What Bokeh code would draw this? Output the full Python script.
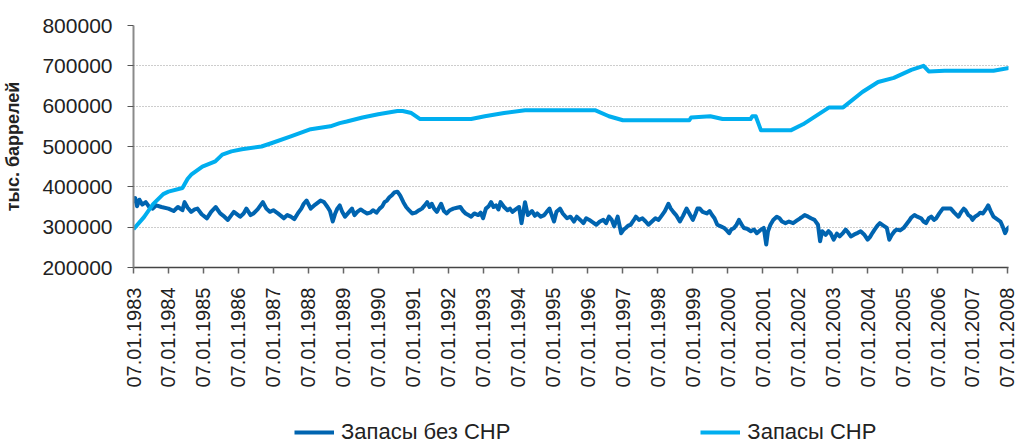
import math
from bokeh.plotting import figure
from bokeh.layouts import column
from bokeh.models import (Range1d, FixedTicker, BasicTickFormatter, Legend, LegendItem)
from bokeh.embed import file_html
from bokeh.resources import INLINE

# ---- data ----
years_ticks = list(range(1983, 2009))
tick_labels = {y: "07.01.%d" % y for y in years_ticks}
series_names = ["Запасы без СНР", "Запасы СНР"]

snr_dates = [1983.0, 1983.3, 1983.56, 1983.85, 1984.0, 1984.4, 1984.55, 1984.65, 1984.97, 1985.34,
             1985.54, 1985.8, 1986.1, 1986.66, 1986.94, 1987.5, 1988.07, 1988.63, 1988.9, 1989.1,
             1989.55, 1990.0, 1990.55, 1990.7, 1990.95, 1991.2, 1992.66, 1993.05, 1993.6, 1994.2,
             1996.2, 1996.6, 1997.0, 1998.9, 1998.95, 1999.5, 1999.85, 2000.65, 2000.7, 2000.8,
             2000.95, 2001.8, 2002.15, 2002.9, 2003.3, 2003.85, 2004.3, 2004.75, 2005.25, 2005.6,
             2005.75, 2006.2, 2007.6, 2008.05]
snr_values = [295000, 325000, 357000, 382000, 388000, 397000, 420000, 430000, 450000, 463000,
              480000, 488000, 493000, 500000, 508000, 525000, 543000, 550000, 558000, 562000,
              572000, 580000, 588000, 588000, 583000, 568000, 568000, 575000, 583000, 590000,
              590000, 575000, 565000, 565000, 572000, 575000, 568000, 568000, 575000, 575000,
              540000, 540000, 555000, 597000, 597000, 635000, 660000, 670000, 690000, 700000,
              686000, 688000, 688000, 695000]

nosnr_dates = [
    1983.00, 1983.05, 1983.10, 1983.17, 1983.25, 1983.35, 1983.45, 1983.55, 1983.65, 1983.80,
    1984.00, 1984.15, 1984.27, 1984.40, 1984.46, 1984.55, 1984.65, 1984.75, 1984.83, 1984.95,
    1985.10, 1985.22, 1985.35, 1985.48, 1985.60, 1985.70, 1985.87, 1986.05, 1986.15, 1986.23,
    1986.35, 1986.43, 1986.55, 1986.70, 1986.80, 1986.90, 1987.00, 1987.13, 1987.22, 1987.30,
    1987.40, 1987.50, 1987.60, 1987.70, 1987.80, 1987.87, 1987.95, 1988.07, 1988.20, 1988.35,
    1988.45, 1988.55, 1988.62, 1988.70, 1988.77, 1988.83, 1988.90, 1988.97, 1989.05, 1989.15,
    1989.25, 1989.32, 1989.40, 1989.50, 1989.60, 1989.68, 1989.77, 1989.85, 1989.95, 1990.04,
    1990.12, 1990.18, 1990.25, 1990.32, 1990.40, 1990.46, 1990.55, 1990.63, 1990.72, 1990.80,
    1990.88, 1990.97, 1991.07, 1991.17, 1991.25, 1991.33, 1991.40, 1991.47, 1991.53, 1991.60,
    1991.68, 1991.75, 1991.80, 1991.88, 1991.96, 1992.05, 1992.15, 1992.25, 1992.35, 1992.43,
    1992.50, 1992.58, 1992.66, 1992.75, 1992.86, 1992.93, 1993.00, 1993.08, 1993.16, 1993.23,
    1993.30, 1993.37, 1993.44, 1993.50, 1993.60, 1993.70, 1993.77, 1993.84, 1993.93, 1994.03,
    1994.10, 1994.20, 1994.28, 1994.40, 1994.48, 1994.55, 1994.65, 1994.75, 1994.82, 1994.90,
    1994.97, 1995.03, 1995.10, 1995.20, 1995.28, 1995.40, 1995.50, 1995.60, 1995.68, 1995.78,
    1995.87, 1995.95, 1996.04, 1996.14, 1996.24, 1996.34, 1996.44, 1996.52, 1996.60, 1996.68,
    1996.75, 1996.85, 1996.95, 1997.02, 1997.08, 1997.15, 1997.22, 1997.30, 1997.37, 1997.46,
    1997.56, 1997.65, 1997.73, 1997.83, 1997.93, 1998.02, 1998.12, 1998.20, 1998.30, 1998.37,
    1998.44, 1998.52, 1998.63, 1998.72, 1998.82, 1998.90, 1999.00, 1999.07, 1999.13, 1999.20,
    1999.28, 1999.40, 1999.48, 1999.55, 1999.62, 1999.70, 1999.80, 1999.90, 1999.97, 2000.04,
    2000.10, 2000.18, 2000.25, 2000.32, 2000.40, 2000.46, 2000.55, 2000.66, 2000.75, 2000.83,
    2000.92, 2001.03, 2001.10, 2001.15, 2001.22, 2001.30, 2001.40, 2001.48, 2001.55, 2001.65,
    2001.75, 2001.87, 2001.97, 2002.07, 2002.14, 2002.20, 2002.30, 2002.38, 2002.48, 2002.58,
    2002.64, 2002.70, 2002.80, 2002.88, 2002.94, 2003.03, 2003.12, 2003.20, 2003.30, 2003.37,
    2003.45, 2003.52, 2003.62, 2003.72, 2003.80, 2003.90, 2004.00, 2004.07, 2004.14, 2004.20,
    2004.28, 2004.35, 2004.45, 2004.55, 2004.62, 2004.70, 2004.77, 2004.83, 2004.93, 2005.03,
    2005.10, 2005.17, 2005.25, 2005.34, 2005.42, 2005.53, 2005.60, 2005.67, 2005.75, 2005.82,
    2005.90, 2005.96, 2006.05, 2006.15, 2006.25, 2006.38, 2006.48, 2006.55, 2006.60, 2006.68,
    2006.75, 2006.80, 2006.88, 2006.95, 2007.00, 2007.07, 2007.15, 2007.22, 2007.30, 2007.38,
    2007.45, 2007.52, 2007.60, 2007.70, 2007.80, 2007.87, 2007.93, 2008.00, 2008.07]
nosnr_values = [
    360000, 372000, 352000, 368000, 356000, 362000, 350000, 346000, 354000, 350000,
    346000, 340000, 350000, 342000, 362000, 348000, 338000, 344000, 346000, 332000,
    322000, 338000, 350000, 334000, 326000, 318000, 338000, 326000, 334000, 346000,
    330000, 334000, 344000, 362000, 346000, 338000, 342000, 334000, 328000, 322000,
    330000, 326000, 320000, 334000, 346000, 358000, 366000, 346000, 356000, 366000,
    362000, 350000, 340000, 314000, 334000, 346000, 354000, 338000, 326000, 336000,
    346000, 330000, 338000, 344000, 338000, 334000, 336000, 342000, 336000, 346000,
    352000, 362000, 366000, 374000, 380000, 386000, 388000, 378000, 362000, 350000,
    342000, 334000, 336000, 342000, 346000, 354000, 362000, 350000, 358000, 346000,
    338000, 350000, 358000, 340000, 334000, 342000, 346000, 348000, 350000, 340000,
    334000, 330000, 326000, 334000, 330000, 336000, 322000, 346000, 352000, 362000,
    350000, 354000, 344000, 362000, 350000, 342000, 346000, 338000, 344000, 350000,
    310000, 362000, 330000, 340000, 328000, 334000, 326000, 330000, 338000, 346000,
    328000, 314000, 338000, 346000, 334000, 322000, 326000, 314000, 326000, 318000,
    310000, 322000, 318000, 312000, 306000, 314000, 318000, 310000, 326000, 318000,
    302000, 326000, 285000, 294000, 298000, 304000, 306000, 316000, 326000, 318000,
    322000, 314000, 306000, 314000, 322000, 318000, 330000, 340000, 358000, 346000,
    338000, 330000, 314000, 328000, 346000, 334000, 318000, 332000, 346000, 346000,
    338000, 334000, 340000, 330000, 322000, 306000, 302000, 298000, 292000, 285000,
    294000, 298000, 306000, 318000, 306000, 298000, 296000, 290000, 294000, 285000,
    292000, 298000, 257000, 290000, 306000, 318000, 326000, 322000, 314000, 310000,
    314000, 310000, 316000, 322000, 326000, 330000, 326000, 322000, 318000, 306000,
    265000, 290000, 281000, 290000, 285000, 269000, 284000, 277000, 286000, 294000,
    286000, 277000, 282000, 286000, 290000, 282000, 269000, 276000, 286000, 294000,
    304000, 310000, 304000, 298000, 269000, 282000, 290000, 294000, 292000, 298000,
    306000, 314000, 324000, 330000, 326000, 322000, 314000, 310000, 322000, 326000,
    318000, 322000, 334000, 346000, 346000, 346000, 336000, 330000, 326000, 338000,
    346000, 342000, 330000, 326000, 318000, 326000, 330000, 336000, 334000, 344000,
    354000, 340000, 326000, 320000, 314000, 300000, 285000, 296000, 302000]

y_ticks = [200000, 300000, 400000, 500000, 600000, 700000, 800000]

FONT = "Liberation Sans"
DARK = "#0064B0"
LIGHT = "#00AEEF"

p = figure(width=1020, height=405, output_backend="svg", toolbar_location=None,
           x_range=Range1d(1983.0, 2008.03), y_range=Range1d(200000, 800000),
           min_border_left=130, min_border_right=12, min_border_top=25, min_border_bottom=138)
p.outline_line_color = None
p.background_fill_color = "white"
p.border_fill_color = "white"

r_dark = p.line(nosnr_dates, nosnr_values, line_color=DARK, line_width=4, line_join="round")
r_light = p.line(snr_dates, snr_values, line_color=LIGHT, line_width=4, line_join="round")

# grid
p.xgrid.grid_line_color = None
p.ygrid.grid_line_color = "#9a9a9a"
p.ygrid.grid_line_dash = "1 2"
p.ygrid.grid_line_width = 1
p.ygrid.ticker = FixedTicker(ticks=y_ticks)

# y axis
ya = p.yaxis[0]
ya.ticker = FixedTicker(ticks=y_ticks)
ya.formatter = BasicTickFormatter(use_scientific=False)
ya.axis_line_color = "#8a8a8a"
ya.axis_line_width = 2
ya.major_tick_line_color = "#555555"
ya.major_tick_out = 6
ya.major_tick_in = 0
ya.minor_tick_out = 0
ya.minor_tick_in = 0
ya.major_label_text_font = FONT
ya.major_label_text_font_size = "21px"
ya.major_label_text_color = "#222222"
ya.major_label_standoff = 15
ya.axis_label = "тыс. баррелей"
ya.axis_label_text_font = FONT
ya.axis_label_text_font_style = "bold"
ya.axis_label_text_font_size = "18px"
ya.axis_label_text_color = "#222222"
ya.axis_label_standoff = 16

# x axis
xa = p.xaxis[0]
xa.ticker = FixedTicker(ticks=years_ticks)
xa.major_label_overrides = tick_labels
xa.major_label_orientation = math.pi / 2
xa.axis_line_color = "#444444"
xa.axis_line_width = 1.5
xa.major_tick_line_color = "#666666"
xa.major_tick_line_width = 1.5
xa.major_tick_out = 6
xa.major_tick_in = 0
xa.minor_tick_out = 0
xa.minor_tick_in = 0
xa.major_label_text_font = FONT
xa.major_label_text_font_size = "20px"
xa.major_label_text_color = "#222222"
xa.major_label_standoff = 14

# legend strip below the chart (its frame is aligned with the chart's frame)
pl = figure(width=1020, height=38, output_backend="svg", toolbar_location=None,
            x_range=Range1d(0, 1), y_range=Range1d(0, 1),
            x_axis_location=None, y_axis_location=None,
            min_border_left=0, min_border_right=0, min_border_top=0, min_border_bottom=0)
pl.outline_line_color = None
pl.xgrid.visible = False
pl.ygrid.visible = False
# off-range proxies that only carry the legend styling
k_dark = pl.line([-5, -4], [-5, -4], line_color=DARK, line_width=4)
k_light = pl.line([-5, -4], [-5, -4], line_color=LIGHT, line_width=4)
legend = Legend(items=[LegendItem(label=series_names[0], renderers=[k_dark]),
                       LegendItem(label=series_names[1], renderers=[k_light])],
                orientation="horizontal", location=(161, -2),
                padding=0, margin=0, spacing=190, label_standoff=7,
                glyph_width=40, glyph_height=18, label_height=18,
                border_line_color=None, background_fill_alpha=0,
                label_text_font=FONT, label_text_font_size="22px",
                label_text_color="#222222")
pl.add_layout(legend, "center")

layout = column(p, pl, spacing=0)
open("out.html", "w").write(file_html(layout, INLINE))
